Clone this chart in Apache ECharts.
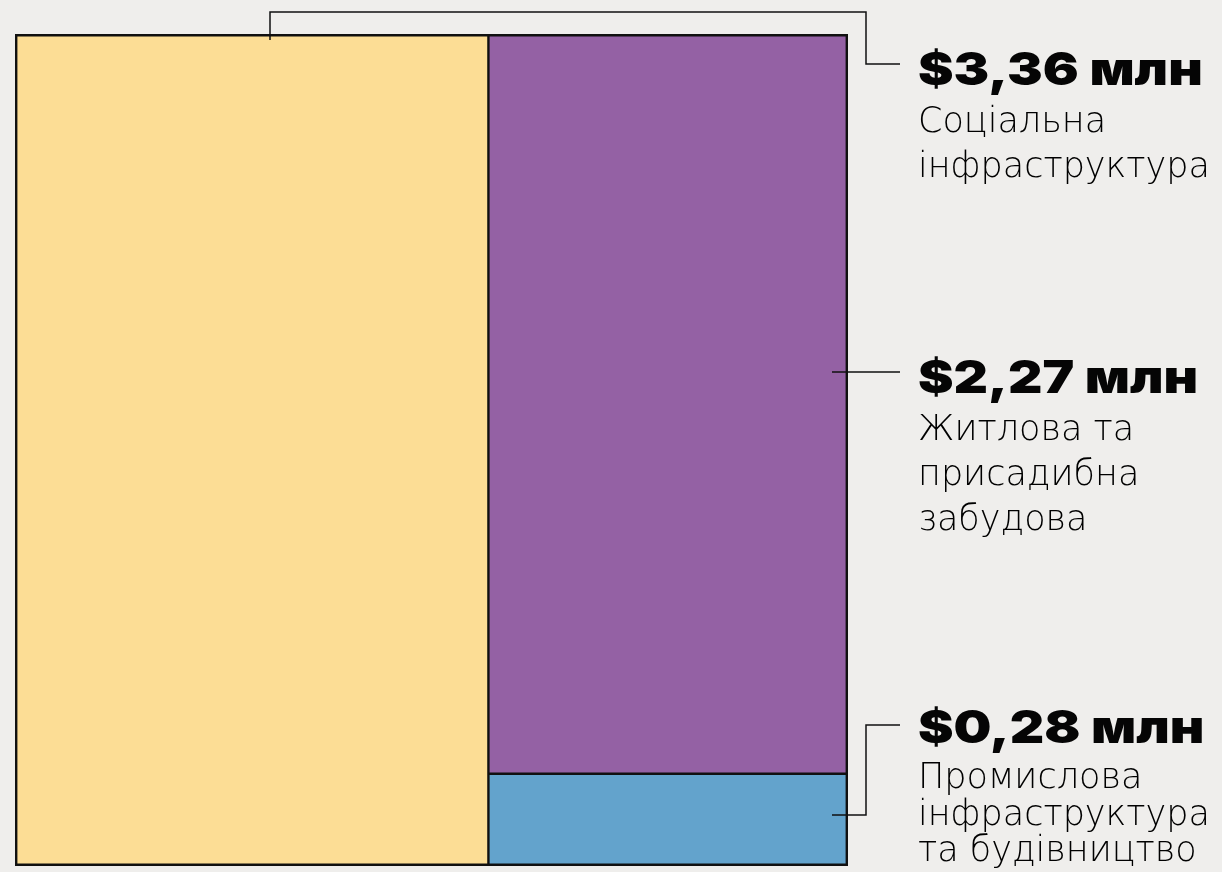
<!DOCTYPE html>
<html>
<head>
<meta charset="utf-8">
<script src="https://cdn.jsdelivr.net/npm/echarts@6/dist/echarts.min.js"></script>
<style>
  html, body { margin: 0; padding: 0; background: #efeeec; }
  #chart { width: 1222px; height: 872px; }
</style>
</head>
<body>
<div id="chart"></div>
<script>
// data
const categories = ['Соціальна інфраструктура', 'Житлова та присадибна забудова', 'Промислова інфраструктура та будівництво']
const values = [3.36, 2.27, 0.28]
const valueLabels = ['$3,36 млн', '$2,27 млн', '$0,28 млн']
const descLines = [
  ['Соціальна', 'інфраструктура'],
  ['Житлова та', 'присадибна', 'забудова'],
  ['Промислова', 'інфраструктура', 'та будівництво']
]
const colors = ['#fcdd95', '#9461a4', '#63a3cc']

const chart = echarts.init(document.getElementById('chart'))

let seriesData = []
values.forEach((v, i) => {
  seriesData.push({
    name: categories[i],
    value: v,
    itemStyle: { color: colors[i] }
  })
})

// text blocks on the right
const headTop = [48, 356, 706]
const descTop = [[105, 150], [413, 458, 503], [761, 798, 834]]
let graphics = []
valueLabels.forEach((t, i) => {
  graphics.push({
    type: 'text',
    x: 918,
    y: headTop[i],
    scaleX: 1.16,
    z: 100,
    style: {
      text: t,
      fill: '#050505',
      verticalAlign: 'top',
      font: '900 46px Inter, "Noto Sans", sans-serif'
    }
  })
  descLines[i].forEach((line, j) => {
    graphics.push({
      type: 'text',
      x: 918,
      y: descTop[i][j],
      z: 100,
      style: {
        text: line,
        fill: '#000',
        verticalAlign: 'top',
        font: '300 35px "DejaVu Sans", sans-serif'
      }
    })
  })
})

// leader lines
const lineStyle = { stroke: '#111', lineWidth: 1.5, fill: null }
graphics.push({
  type: 'polyline',
  z: 100,
  shape: { points: [[270, 40], [270, 12], [866, 12], [866, 64], [900, 64]] },
  style: lineStyle
})
graphics.push({
  type: 'polyline',
  z: 100,
  shape: { points: [[832, 372], [900, 372]] },
  style: lineStyle
})
graphics.push({
  type: 'polyline',
  z: 100,
  shape: { points: [[832, 815], [866, 815], [866, 725], [900, 725]] },
  style: lineStyle
})

const options = {
  backgroundColor: '#efeeec',
  animation: false,
  tooltip: { show: false },
  series: [
    {
      type: 'treemap',
      left: 15,
      top: 34,
      width: 833,
      height: 832,
      squareRatio: 1,
      roam: false,
      nodeClick: false,
      breadcrumb: { show: false },
      label: { show: false },
      upperLabel: { show: false },
      itemStyle: {
        borderColor: '#111',
        borderWidth: 1.2,
        gapWidth: 0
      },
      emphasis: { disabled: true },
      data: seriesData
    }
  ],
  graphic: graphics
}
chart.setOption(options)
</script>
</body>
</html>
